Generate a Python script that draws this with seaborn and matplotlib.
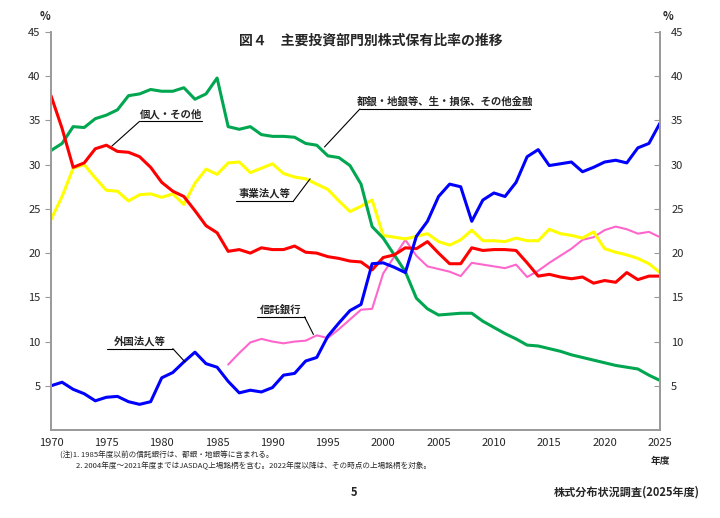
import numpy as np
import pandas as pd
import matplotlib
matplotlib.use("Agg")
import matplotlib.pyplot as plt
import seaborn as sns

# data (%)
years = list(range(1970, 2026))

city_banks = [31.6, 32.4, 34.3, 34.2, 35.2, 35.6, 36.2, 37.8, 38.0, 38.5,
              38.3, 38.3, 38.7, 37.4, 38.0, 39.8, 34.3, 34.0, 34.3, 33.4,
              33.2, 33.2, 33.1, 32.4, 32.2, 31.0, 30.8, 29.9, 27.8, 23.0,
              21.7, 19.8, 17.9, 14.9, 13.7, 13.0, 13.1, 13.2, 13.2, 12.3,
              11.6, 10.9, 10.3, 9.6, 9.5, 9.2, 8.9, 8.5, 8.2, 7.9,
              7.6, 7.3, 7.1, 6.9, 6.2, 5.6]
individuals = [37.8, 34.1, 29.7, 30.2, 31.8, 32.2, 31.5, 31.4, 30.9, 29.7,
               28.0, 27.0, 26.4, 24.8, 23.1, 22.3, 20.2, 20.4, 20.0, 20.6,
               20.4, 20.4, 20.8, 20.1, 20.0, 19.6, 19.4, 19.1, 19.0, 18.1,
               19.5, 19.8, 20.6, 20.5, 21.3, 20.0, 18.8, 18.8, 20.6, 20.3,
               20.4, 20.4, 20.3, 18.9, 17.4, 17.6, 17.3, 17.1, 17.3, 16.6,
               16.9, 16.7, 17.8, 17.0, 17.4, 17.4]
corporations = [23.8, 26.4, 29.6, 30.0, 28.5, 27.1, 27.0, 25.9, 26.6, 26.7,
                26.3, 26.7, 25.5, 27.9, 29.5, 28.9, 30.2, 30.3, 29.1, 29.6,
                30.1, 29.0, 28.6, 28.4, 27.8, 27.2, 25.9, 24.7, 25.3, 26.0,
                22.0, 21.8, 21.6, 21.9, 22.2, 21.3, 20.9, 21.5, 22.6, 21.4,
                21.4, 21.3, 21.7, 21.4, 21.4, 22.7, 22.2, 22.0, 21.7, 22.4,
                20.5, 20.1, 19.8, 19.4, 18.8, 17.8]
trust_years = list(range(1986, 2026))
trust_banks = [7.4, 8.7, 9.9, 10.3, 10.0, 9.8, 10.0, 10.1, 10.7, 10.4,
               11.4, 12.5, 13.6, 13.7, 17.7, 19.6, 21.5, 19.7, 18.5, 18.2,
               17.9, 17.4, 18.9, 18.7, 18.5, 18.3, 18.7, 17.3, 18.0, 18.9,
               19.7, 20.5, 21.5, 21.8, 22.6, 23.0, 22.7, 22.2, 22.4, 21.8]
foreigners = [5.0, 5.4, 4.6, 4.1, 3.3, 3.7, 3.8, 3.2, 2.9, 3.2,
              5.9, 6.5, 7.7, 8.8, 7.5, 7.1, 5.5, 4.2, 4.5, 4.3,
              4.8, 6.2, 6.4, 7.8, 8.2, 10.6, 12.1, 13.5, 14.2, 18.8,
              18.9, 18.4, 17.8, 21.9, 23.6, 26.4, 27.8, 27.5, 23.6, 26.0,
              26.8, 26.4, 28.0, 30.9, 31.7, 29.9, 30.1, 30.3, 29.2, 29.7,
              30.3, 30.5, 30.2, 31.9, 32.4, 34.7]

xticks = list(range(1970, 2030, 5))
yticks = list(range(5, 50, 5))

sns.set_style("white")
plt.rcParams['font.family'] = ['Noto Sans CJK JP', 'DejaVu Sans']

fig = plt.figure(figsize=(7.2, 5.18), dpi=100)
ax = fig.add_axes([51 / 720, 1 - 430 / 518, 609 / 720, 398 / 518])

# draw order: pink, yellow, green, red, blue
sns.lineplot(x=trust_years, y=trust_banks, color="#FF66CC", linewidth=1.5, ax=ax)
sns.lineplot(x=years, y=corporations, color="#FFFF00", linewidth=2.2, ax=ax)
sns.lineplot(x=years, y=city_banks, color="#00A650", linewidth=2.2, ax=ax)
sns.lineplot(x=years, y=individuals, color="#FF0000", linewidth=2.2, ax=ax)
sns.lineplot(x=years, y=foreigners, color="#0000FF", linewidth=2.2, ax=ax)

ax.set_xlim(1970, 2025)
ax.set_ylim(0, 45)
ax.set_xticks(xticks)
ax.set_yticks(yticks)
ax.tick_params(axis="x", direction="inout", length=5, color="#999999",
               labelsize=8, pad=3)
ax.tick_params(axis="y", direction="out", length=4, color="#999999",
               labelsize=8, left=True)
for s in ["left", "right", "bottom"]:
    ax.spines[s].set_color("#999999")
    ax.spines[s].set_linewidth(1.2)
ax.spines["top"].set_visible(False)

ax2 = ax.twinx()
ax2.set_ylim(0, 45)
ax2.set_yticks(yticks)
ax2.tick_params(axis="y", direction="in", length=4, color="#999999",
                labelsize=8, right=True, pad=8)
for s in ["left", "right", "bottom"]:
    ax2.spines[s].set_color("#999999")
    ax2.spines[s].set_linewidth(1.2)
ax2.spines["top"].set_visible(False)

# series labels with underline and leader line
labels = [
    ("個人・その他", 1978.0, 1983.6, 34.9, 1975.5, 32.1),
    ("事業法人等", 1986.7, 1991.9, 25.9, 1993.4, 28.4),
    ("都銀・地銀等、生・損保、その他金融", 1997.9, 2013.3, 36.3, 1994.7, 32.0),
    ("信託銀行", 1988.6, 1992.9, 12.8, 1993.7, 10.8),
    ("外国法人等", 1975.1, 1981.0, 9.2, 1982.1, 7.7),
]
for text, x0, x1, yl, xp, yp in labels:
    ax.plot([x0, x1], [yl, yl], color="black", linewidth=0.8)
    end = x0 if xp < x0 else x1
    ax.plot([end, xp], [yl, yp], color="black", linewidth=0.8)
    ax.text((x0 + x1) / 2, yl + 0.25, text, ha="center", va="bottom",
            fontsize=7.5, fontweight="bold")

fig.text(0.515, 0.921, "図４　主要投資部門別株式保有比率の推移", ha="center",
         va="center", fontsize=10, fontweight="bold")
fig.text(45 / 720, 1 - 16 / 518, "%", ha="center", va="center", fontsize=8,
         fontweight="bold")
fig.text(668 / 720, 1 - 16 / 518, "%", ha="center", va="center", fontsize=8,
         fontweight="bold")
fig.text(660 / 720, 1 - 461 / 518, "年度", ha="center", va="center", fontsize=7,
         fontweight="bold")
fig.text(60 / 720, 1 - 456 / 518,
         "(注)1. 1985年度以前の信託銀行は、都銀・地銀等に含まれる。",
         ha="left", va="center", fontsize=5.5)
fig.text(76 / 720, 1 - 466 / 518,
         "2. 2004年度～2021年度まではJASDAQ上場銘柄を含む。2022年度以降は、その時点の上場銘柄を対象。",
         ha="left", va="center", fontsize=5.5)
fig.text(354 / 720, 1 - 492 / 518, "5", ha="center", va="center", fontsize=8,
         fontweight="bold")
fig.text(700 / 720, 1 - 492 / 518, "株式分布状況調査(2025年度)", ha="right",
         va="center", fontsize=8, fontweight="bold")

fig.savefig("out.png", dpi=100)
